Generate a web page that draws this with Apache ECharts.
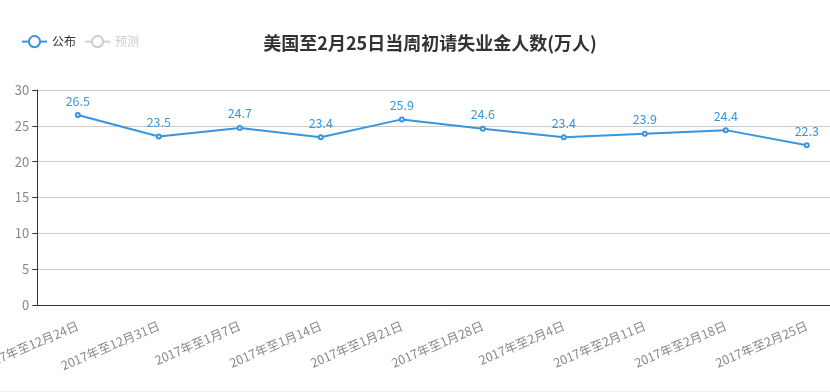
<!DOCTYPE html>
<html><head><meta charset="utf-8">
<script src="https://cdn.jsdelivr.net/npm/echarts@6/dist/echarts.min.js"></script>
<style>html,body{margin:0;padding:0;overflow:hidden;background:#fff;width:830px;height:392px}
#c{position:absolute;left:0;top:0;width:860px;height:392px}
#b{position:absolute;left:0;top:391px;width:830px;height:1px;background:#eceef0}</style>
</head><body><div id="c"></div><div id="b"></div>
<script>
var categories = ['2017年至12月24日','2017年至12月31日','2017年至1月7日','2017年至1月14日','2017年至1月21日','2017年至1月28日','2017年至2月4日','2017年至2月11日','2017年至2月18日','2017年至2月25日'];
var published = [26.5, 23.5, 24.7, 23.4, 25.9, 24.6, 23.4, 23.9, 24.4, 22.3];
var forecast = [];
var yTicks = {min: 0, max: 30, interval: 5};
var font = '"Noto Sans CJK SC", "Noto Sans", sans-serif';
var chart = echarts.init(document.getElementById('c'), null, {renderer: 'canvas'});
chart.setOption({
  animation: false,
  textStyle: {fontFamily: font},
  title: {
    text: '美国至2月25日当周初请失业金人数(万人)',
    left: 'center', top: 29,
    textStyle: {fontSize: 18, fontWeight: 'bold', color: '#333', fontFamily: font}
  },
  legend: {
    left: 16, top: 30,
    itemWidth: 25, itemHeight: 14,
    textStyle: {fontSize: 12, color: '#333', fontFamily: font},
    inactiveColor: '#ccc',
    data: ['公布', '预测'],
    selected: {'公布': true, '预测': false}
  },
  grid: {left: 37.3, right: 12.7, top: 90, bottom: 87, containLabel: false, outerBoundsMode: 'none'},
  xAxis: {
    type: 'category', boundaryGap: true, data: categories,
    axisLine: {lineStyle: {color: '#333'}},
    axisTick: {lineStyle: {color: '#333'}},
    axisLabel: {rotate: 23, color: '#888', fontSize: 12.5, fontFamily: font, interval: 0, margin: 20}
  },
  yAxis: {
    type: 'value', min: yTicks.min, max: yTicks.max, interval: yTicks.interval,
    axisLine: {show: true, lineStyle: {color: '#333'}},
    axisTick: {show: true, lineStyle: {color: '#333'}},
    axisLabel: {color: '#888', fontSize: 13, fontFamily: font},
    splitLine: {lineStyle: {color: '#ccc'}}
  },
  series: [
    {name: '公布', type: 'line', data: published, symbol: 'emptyCircle', symbolSize: 4,
     itemStyle: {color: '#3a96dc'}, lineStyle: {width: 2, color: '#3a96dc'},
     label: {show: true, position: 'top', color: '#3a96dc', fontSize: 12.5, fontFamily: font}},
    {name: '预测', type: 'line', data: forecast, symbol: 'emptyCircle', symbolSize: 4,
     itemStyle: {color: '#aaa'}, lineStyle: {color: '#aaa'}}
  ]
});
</script></body></html>
